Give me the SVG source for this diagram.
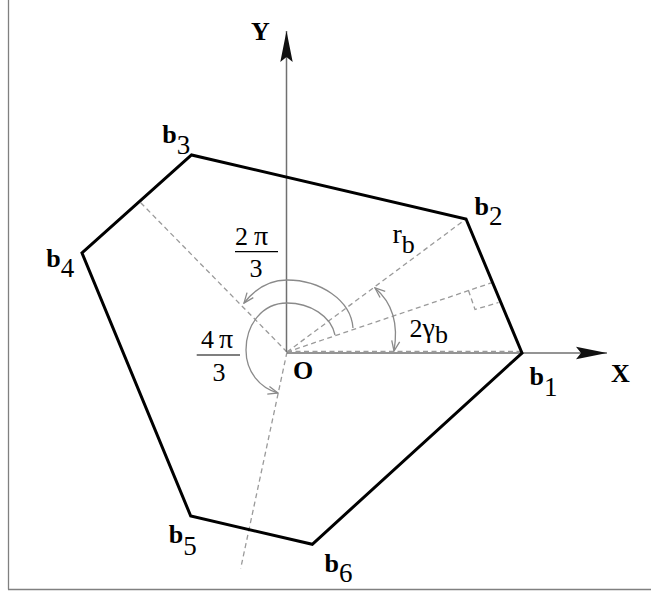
<svg xmlns="http://www.w3.org/2000/svg" width="651" height="595" viewBox="0 0 651 595">
  <style>
    .frame { stroke: #808080; stroke-width: 1.3; fill: none; }
    .poly { stroke: #000; stroke-width: 3; fill: none; stroke-linejoin: miter; }
    .axis { stroke: #707070; stroke-width: 1.5; fill: none; }
    .dash { stroke: #9a9a9a; stroke-width: 1.3; fill: none; stroke-dasharray: 5 3.5; }
    .arc { stroke: #8a8a8a; stroke-width: 1.3; fill: none; }
    .lbl { font-family: "Liberation Serif", "Times New Roman", serif; fill: #000; }
    .bold { font-weight: bold; }
    .bar { stroke: #000; stroke-width: 1.2; }
  </style>
  <defs>
    <marker id="axisHead" markerUnits="userSpaceOnUse" viewBox="0 0 32 14" markerWidth="32" markerHeight="14" refX="31" refY="7" orient="auto">
      <path d="M31,7 L0,0.8 L5,7 L0,13.2 Z" fill="#111"/>
    </marker>
    <marker id="openHead" markerUnits="userSpaceOnUse" viewBox="0 0 12 10" markerWidth="12" markerHeight="10" refX="11" refY="5" orient="auto-start-reverse">
      <path d="M1,1 L11,5 L1,9" fill="none" stroke="#8a8a8a" stroke-width="1.3"/>
    </marker>
  </defs>

  <rect width="651" height="595" fill="#fff"/>
  <g id="frame">
    <line class="frame" x1="8.5" y1="0" x2="8.5" y2="589.5"/>
    <line class="frame" x1="8" y1="589.5" x2="651" y2="589.5"/>
  </g>

  <g id="connectors">
    <line class="dash" x1="287" y1="352" x2="466" y2="219"/>
    <line class="dash" x1="287" y1="352" x2="492.7" y2="282.4"/>
    <line class="dash" x1="287" y1="352" x2="140" y2="202"/>
    <line class="dash" x1="287" y1="352" x2="240.7" y2="568.3"/>
    <polyline class="dash" points="468.5,290.5 475,309.5 498.5,302.5"/>
    <line class="axis" x1="286.5" y1="352" x2="286.5" y2="31" marker-end="url(#axisHead)"/>
    <line class="axis" x1="287" y1="353" x2="607" y2="353" marker-end="url(#axisHead)"/>
    <line class="dash" x1="287" y1="351.5" x2="522" y2="351.5"/>
    <path class="arc" d="M353,328 C351,300 320,280 287,280 C270,280 255,289 244,303" marker-end="url(#openHead)"/>
    <path class="arc" d="M335,335 C331,316 310,303 287,303 C262,303 246,325 246,350 C246,372 260,388 278,393" marker-end="url(#openHead)"/>
    <path class="arc" d="M394,351 Q401,310 375,288" marker-start="url(#openHead)" marker-end="url(#openHead)"/>
  </g>

  <g id="polygon">
    <polygon class="poly" points="522,353 466,219 191.5,155 82,253 190.7,516 312.3,544.3"/>
  </g>

  <g id="axis-labels">
    <text class="lbl bold" x="251" y="39.5" font-size="26">Y</text>
    <text class="lbl bold" x="611" y="382" font-size="26">X</text>
    <text class="lbl bold" x="293" y="378.5" font-size="26">O</text>
  </g>

  <g id="b1"><text class="lbl" x="529.5" y="385" font-size="26"><tspan class="bold">b</tspan><tspan dy="11" font-size="27">1</tspan></text></g>
  <g id="b2"><text class="lbl" x="474.5" y="215" font-size="26"><tspan class="bold">b</tspan><tspan dy="10" font-size="27">2</tspan></text></g>
  <g id="b3"><text class="lbl" x="162.2" y="143.3" font-size="26"><tspan class="bold">b</tspan><tspan dy="11" font-size="27">3</tspan></text></g>
  <g id="b4"><text class="lbl" x="46.2" y="266.7" font-size="26"><tspan class="bold">b</tspan><tspan dy="10.6" font-size="27">4</tspan></text></g>
  <g id="b5"><text class="lbl" x="168.8" y="543.3" font-size="26"><tspan class="bold">b</tspan><tspan dy="11.5" font-size="27">5</tspan></text></g>
  <g id="b6"><text class="lbl" x="324.5" y="571.7" font-size="26"><tspan class="bold">b</tspan><tspan dy="10" font-size="27">6</tspan></text></g>

  <g id="rb">
    <text class="lbl" x="392.5" y="243.3" font-size="28">r<tspan dy="10" font-size="26">b</tspan></text>
  </g>
  <g id="gamma">
    <text class="lbl" x="409.5" y="336.7" font-size="26">2<tspan font-size="28">γ</tspan><tspan dy="6.6" font-size="26">b</tspan></text>
  </g>

  <g id="frac-2pi">
    <text class="lbl" y="245" font-size="26"><tspan x="235">2</tspan><tspan x="254" font-size="28">π</tspan></text>
    <line class="bar" x1="235" y1="251.7" x2="278" y2="251.7"/>
    <text class="lbl" x="249.5" y="277" font-size="26">3</text>
  </g>
  <g id="frac-4pi">
    <text class="lbl" y="348.3" font-size="26"><tspan x="201">4</tspan><tspan x="219" font-size="28">π</tspan></text>
    <line class="bar" x1="196.7" y1="355" x2="240" y2="355"/>
    <text class="lbl" x="212.5" y="380.5" font-size="26">3</text>
  </g>
</svg>
